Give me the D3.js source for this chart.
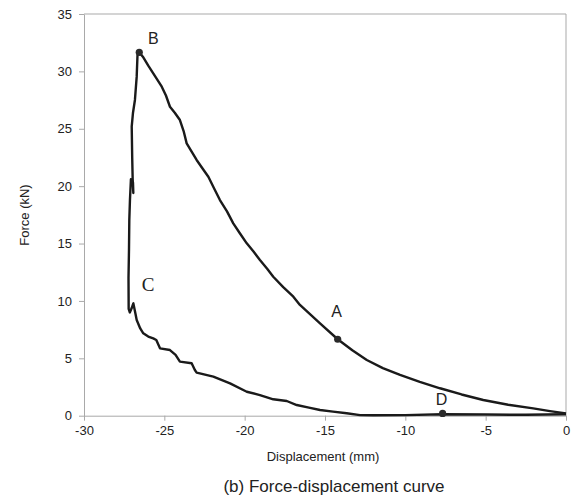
<!DOCTYPE html>
<meta charset="utf-8">
<style>
body { margin: 0; background: #fff; }
svg text { font-family: "Liberation Sans", Arial, sans-serif; fill: #222; }
.axis path, .axis line { stroke: #a9a9a9; }
.axis text { font-size: 13px; }
</style>
<script src="https://d3js.org/d3.v7.min.js"></script>
<body>
<svg id="chart" width="571" height="498"></svg>
<script>
// upper branch: from peak B down to the origin
var upperX = [-26.56, -26.3, -26.0, -25.69, -25.45, -25.16, -24.9, -24.65, -24.35, -24.03, -23.8, -23.61, -23.3, -22.99, -22.6, -22.26, -21.9, -21.54, -21.1, -20.71, -20.3, -19.87, -19.45, -19.05, -18.6, -18.22, -17.6, -16.97, -16.56, -15.9, -15.31, -14.21, -13.3, -12.4, -11.4, -10.33, -9.1, -7.84, -6.5, -5.15, -3.6, -2.04, -1.0, 0];
var upperY = [31.66, 31.2, 30.5, 29.83, 29.3, 28.67, 27.9, 26.92, 26.4, 25.76, 24.8, 23.73, 23.0, 22.28, 21.5, 20.82, 19.8, 18.79, 17.8, 16.76, 15.9, 15.02, 14.3, 13.57, 12.8, 12.11, 11.2, 10.37, 9.65, 8.8, 8.05, 6.66, 5.7, 4.85, 4.15, 3.55, 2.95, 2.39, 1.85, 1.37, 0.95, 0.64, 0.4, 0.2];

// lower branch: from origin back to C, then the steep rise to B
var lowerX = [0, -2.5, -5.0, -7.68, -10.0, -12.0, -12.82, -13.65, -14.5, -15.31, -16.0, -16.76, -17.38, -18.22, -19.05, -19.87, -20.91, -21.95, -22.99, -23.1, -23.30, -24.03, -24.3, -24.65, -25.27, -25.5, -25.69, -26.0, -26.31, -26.5, -26.72, -26.8, -26.93, -27.03, -27.15, -27.22, -27.23, -27.2, -27.18, -27.14, -27.08, -26.95, -26.93, -26.97, -27.0, -27.03, -26.95, -26.83, -26.72, -26.67, -26.56];
var lowerY = [0.12, 0.08, 0.1, 0.12, 0.05, 0.04, 0.05, 0.21, 0.35, 0.5, 0.7, 0.93, 1.28, 1.43, 1.80, 2.09, 2.82, 3.40, 3.75, 3.98, 4.57, 4.71, 5.3, 5.72, 5.87, 6.6, 6.74, 6.9, 7.18, 7.6, 8.34, 8.9, 9.79, 9.38, 9.0, 9.3, 12.0, 14.44, 17.05, 18.79, 20.6, 20.3, 19.4, 20.6, 22.5, 25.18, 26.4, 27.51, 29.54, 31.43, 31.66];

var pointNames = ["A", "B", "D"];
var pointX = [-14.21, -26.56, -7.68];
var pointY = [6.66, 31.66, 0.2];

var xTicks = [-30, -25, -20, -15, -10, -5, 0];
var yTicks = [0, 5, 10, 15, 20, 25, 30, 35];

var svg = d3.select("#chart");
var plotLeft = 84, plotRight = 566, plotTop = 14, plotBottom = 415.7;

var x = d3.scaleLinear().domain([-30, 0]).range([plotLeft, plotRight]);
var y = d3.scaleLinear().domain([0, 35]).range([plotBottom, plotTop]);

// frame on top and right
svg.append("line").attr("x1", plotLeft).attr("x2", plotRight).attr("y1", plotTop).attr("y2", plotTop)
    .attr("stroke", "#a9a9a9");
svg.append("line").attr("x1", plotRight).attr("x2", plotRight).attr("y1", plotTop).attr("y2", plotBottom)
    .attr("stroke", "#a9a9a9");

// plain hyphen for negatives, like the original
var fmt = function(d) { return String(d); };

svg.append("g").attr("class", "axis")
    .attr("transform", "translate(0," + plotBottom + ")")
    .call(d3.axisBottom(x).tickValues(xTicks).tickFormat(fmt).tickSize(5).tickSizeOuter(0).tickPadding(5));

svg.append("g").attr("class", "axis")
    .attr("transform", "translate(" + plotLeft + ",0)")
    .call(d3.axisLeft(y).tickValues(yTicks).tickFormat(fmt).tickSize(5).tickSizeOuter(0).tickPadding(7));

var line = d3.line().x(function(d) { return x(d[0]); }).y(function(d) { return y(d[1]); });

svg.append("path")
    .datum(d3.zip(upperX, upperY))
    .attr("d", line)
    .attr("fill", "none").attr("stroke", "#1a1a1a").attr("stroke-width", 2.4)
    .attr("stroke-linejoin", "round");

svg.append("path")
    .datum(d3.zip(lowerX, lowerY))
    .attr("d", line)
    .attr("fill", "none").attr("stroke", "#1a1a1a").attr("stroke-width", 2.4)
    .attr("stroke-linejoin", "round");

svg.selectAll(".pt")
    .data(d3.range(pointNames.length))
    .enter().append("circle")
    .attr("cx", function(i) { return x(pointX[i]); })
    .attr("cy", function(i) { return y(pointY[i]); })
    .attr("r", 3.6)
    .attr("fill", "#2a2a2a");

var labelDx = [-1, 14, -1];
var labelDy = [-22, -8, -8];
svg.selectAll(".lbl")
    .data(d3.range(pointNames.length))
    .enter().append("text")
    .attr("x", function(i) { return x(pointX[i]) + labelDx[i]; })
    .attr("y", function(i) { return y(pointY[i]) + labelDy[i]; })
    .attr("text-anchor", "middle")
    .style("font-size", "16px")
    .text(function(i) { return pointNames[i]; });

svg.append("text")
    .attr("x", 148).attr("y", 291)
    .attr("text-anchor", "middle")
    .style("font-family", "'Liberation Serif', 'Times New Roman', serif")
    .style("font-size", "19px")
    .text("C");

svg.append("text")
    .attr("x", 323).attr("y", 461)
    .attr("text-anchor", "middle")
    .style("font-size", "13px")
    .text("Displacement (mm)");

svg.append("text")
    .attr("transform", "translate(29,215) rotate(-90)")
    .attr("text-anchor", "middle")
    .style("font-size", "13px")
    .text("Force (kN)");

svg.append("text")
    .attr("x", 334).attr("y", 492)
    .attr("text-anchor", "middle")
    .style("font-size", "17px")
    .text("(b) Force-displacement curve");
</script>
</body>
